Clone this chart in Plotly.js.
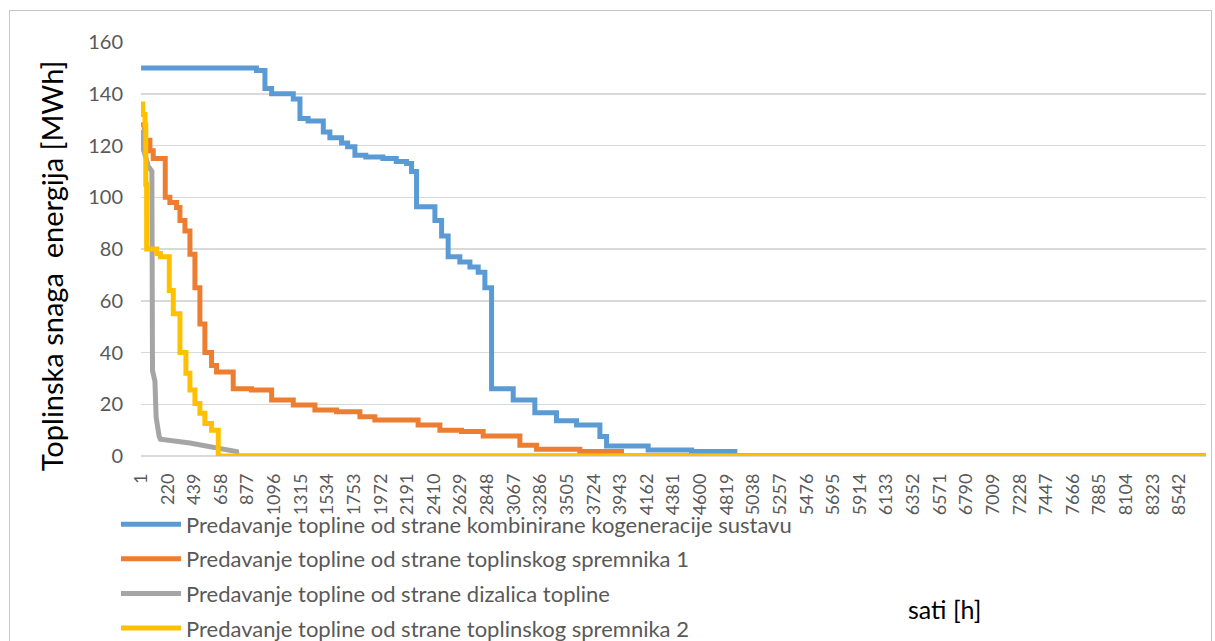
<!DOCTYPE html>
<html>
<head>
<meta charset="utf-8">
<script src="https://cdn.plot.ly/plotly-3.0.1.min.js"></script>
<style>
  html, body { margin: 0; padding: 0; background: #ffffff; }
  #wrap { position: relative; width: 1215px; height: 641px; overflow: hidden; }
  #chart { position: absolute; left: 0; top: 0; width: 1215px; height: 641px; }
  #frame { position: absolute; left: 9px; top: 10px; width: 1201px; height: 650px;
           border: 1px solid #c6c6c6; pointer-events: none; }
</style>
</head>
<body>
<div id="wrap">
  <div id="chart"></div>
  <div id="frame"></div>
</div>
<script>
// ---- data ----
const seriesNames = [
  "Predavanje topline od strane kombinirane kogeneracije sustavu",
  "Predavanje topline od strane toplinskog spremnika 1",
  "Predavanje topline od strane dizalica topline",
  "Predavanje topline od strane toplinskog spremnika 2"
];

// kogeneracija (step curve: value holds from hour until next hour)
const cogenHours  = [1, 950, 1020, 1075, 1253, 1308, 1375, 1500, 1554, 1650, 1700, 1760, 1850, 1990, 2100, 2185, 2226, 2267, 2418, 2473, 2527, 2623, 2706, 2774, 2829, 2884, 3062, 3240, 3418, 3583, 3775, 3830, 4172, 4529, 4885, 8760];
const cogenValues = [150, 149, 142, 140, 138, 130.4, 129.5, 125.2, 123, 121, 119.5, 116.2, 115.6, 115, 113.8, 113, 110, 96.3, 91, 85, 77, 75, 73, 71, 65, 26, 21.6, 16.7, 13.6, 12, 7.5, 3.9, 2.3, 1.7, 0, 0];

// toplinski spremnik 1 (step curve)
const store1Hours  = [1, 30, 74, 101, 200, 238, 293, 321, 362, 403, 444, 485, 526, 581, 622, 759, 910, 1075, 1253, 1431, 1609, 1801, 1924, 2280, 2459, 2637, 2815, 3117, 3254, 3610, 3953, 8760];
const store1Values = [128, 122, 118, 115, 100, 98, 96, 91, 87, 78, 65, 51, 40, 35, 32.5, 26, 25.5, 21.6, 19.7, 17.8, 17.1, 15.2, 13.9, 12, 10, 9.5, 7.7, 4.2, 2.6, 1.7, 0, 0];

// dizalica topline (polyline)
const heatPumpHours  = [1, 10, 30, 60, 90, 95, 115, 125, 150, 160, 403, 622, 787, 790, 8760];
const heatPumpValues = [126, 120, 117, 112, 110, 33, 29, 15, 7.5, 6.5, 5, 3.1, 1.7, 0, 0];

// toplinski spremnik 2 (step curve)
const store2Hours  = [1, 15, 33, 40, 47, 130, 160, 233, 266, 321, 370, 403, 444, 485, 526, 581, 636, 8760];
const store2Values = [136, 132, 128, 105, 80, 78.3, 77, 64, 55, 40, 32, 25.5, 20.3, 16.5, 12.6, 10, 0, 0];

const xTickValues = [1, 220, 439, 658, 877, 1096, 1315, 1534, 1753, 1972, 2191, 2410, 2629, 2848, 3067, 3286, 3505, 3724, 3943, 4162, 4381, 4600, 4819, 5038, 5257, 5476, 5695, 5914, 6133, 6352, 6571, 6790, 7009, 7228, 7447, 7666, 7885, 8104, 8323, 8542];
const xTickLabels = xTickValues.map(String);
const yTickValues = [0, 20, 40, 60, 80, 100, 120, 140, 160];

const colors = ["#5B9BD5", "#ED7D31", "#A5A5A5", "#FFC000"];

// ---- traces ----
const lw = 5;
const traces = [
  {x: cogenHours, y: cogenValues, name: seriesNames[0], line: {color: colors[0], width: lw, shape: "hv"}},
  {x: store1Hours, y: store1Values, name: seriesNames[1], line: {color: colors[1], width: lw, shape: "hv"}},
  {x: heatPumpHours, y: heatPumpValues, name: seriesNames[2], line: {color: colors[2], width: lw, shape: "linear"}},
  {x: store2Hours, y: store2Values, name: seriesNames[3], line: {color: colors[3], width: lw, shape: "hv"}}
].map((t, i) => Object.assign({type: "scatter", mode: "lines", legendgroup: "g" + i, hoverinfo: "skip"}, t));

const FONT = "Lato, 'Open Sans', sans-serif";
const PW = 1065, PH = 414.5, PL = 141, PB = 456;

const layout = {
  width: 1215, height: 641,
  margin: {l: PL, r: 9, t: 41.5, b: 185, autoexpand: false},
  paper_bgcolor: "#ffffff", plot_bgcolor: "#ffffff",
  showlegend: true,
  legend: {
    orientation: "v", x: -25 / PW, xanchor: "left", y: -(47.5 / PH), yanchor: "top",
    xref: "paper", yref: "paper",
    font: {family: FONT, size: 22, color: "#595959"},
    itemwidth: 60, tracegroupgap: 3, bgcolor: "rgba(0,0,0,0)",
    traceorder: "grouped"
  },
  xaxis: {
    type: "linear", range: [0.5, 8760.5], automargin: false,
    tickmode: "array", tickvals: xTickValues, ticktext: xTickLabels,
    tickangle: -90, ticks: "", showgrid: false, zeroline: false, showline: false,
    tickfont: {family: FONT, size: 18, color: "#595959"},
    ticklabelstandoff: 13, fixedrange: true
  },
  yaxis: {
    range: [0, 160], tickmode: "array", tickvals: yTickValues, automargin: false,
    showgrid: true, gridcolor: "#d9d9d9", gridwidth: 1.5,
    zeroline: true, zerolinecolor: "#d9d9d9", zerolinewidth: 1.5,
    showline: false, ticks: "",
    tickfont: {family: FONT, size: 20, color: "#595959"},
    ticklabelstandoff: 17,
    fixedrange: true
  },
  annotations: [
    {
      text: "Toplinska snaga  energija [MWh]", textangle: -90,
      xref: "paper", yref: "paper",
      x: (51 - PL) / PW, y: (PB - 266) / PH, xanchor: "center", yanchor: "middle",
      showarrow: false, font: {family: FONT, size: 29, color: "#000000"}
    },
    {
      text: "sati [h]", xref: "paper", yref: "paper",
      x: (944 - PL) / PW, y: (PB - 609) / PH, xanchor: "center", yanchor: "middle",
      showarrow: false, font: {family: FONT, size: 25, color: "#000000"}
    }
  ]
};

Plotly.newPlot("chart", traces, layout, {staticPlot: true, displayModeBar: false});
</script>
</body>
</html>
